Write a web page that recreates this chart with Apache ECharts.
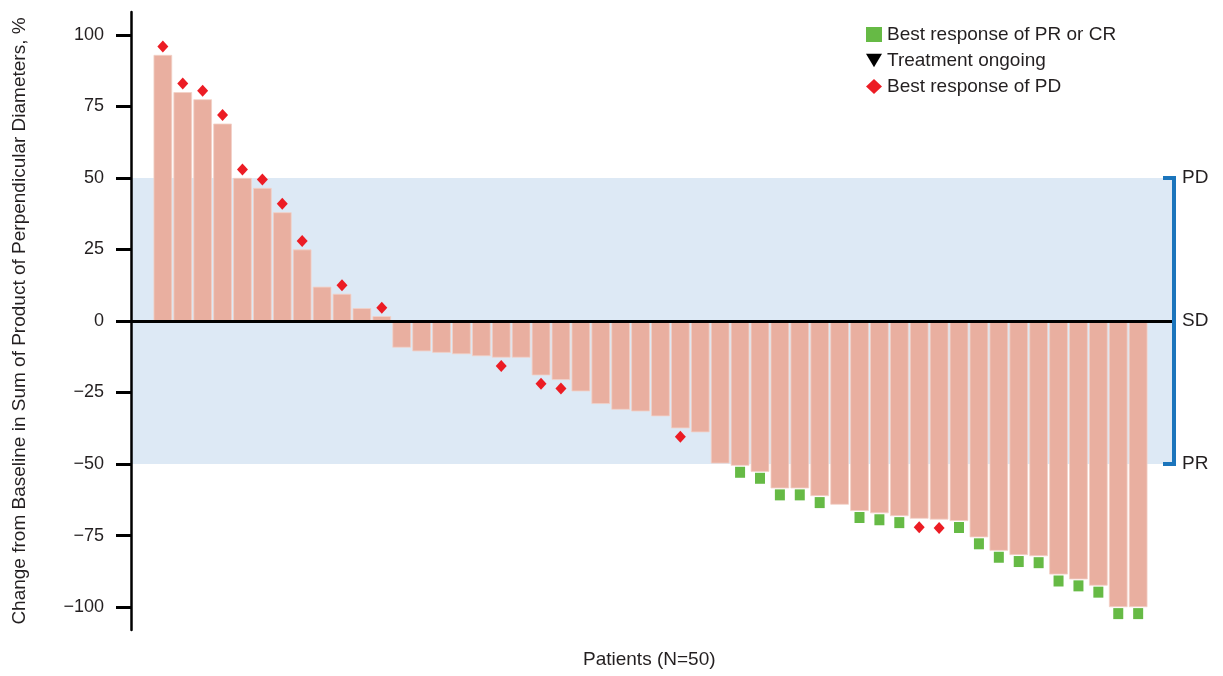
<!DOCTYPE html>
<html>
<head>
<meta charset="utf-8">
<script src="https://cdn.jsdelivr.net/npm/echarts@6/dist/echarts.min.js"></script>
<style>
  html, body { margin: 0; padding: 0; background: #fff; }
  #chart { width: 1223px; height: 676px; }
</style>
</head>
<body>
<div id="chart"></div>
<script>
// Best percentage change from baseline in SPD, one value per patient (sorted)
const changeFromBaseline = [
  93, 80, 77.5, 69, 50, 46.5, 38, 25, 12, 9.5, 4.5, 1.7,
  -9.3, -10.6, -11.1, -11.6, -12.3, -12.8, -12.8, -19, -20.6, -24.6, -29, -31, -31.6, -33.3, -37.5, -38.9,
  -49.8, -50.6, -52.7, -58.5, -58.5, -61.2, -64.2, -66.4, -67.2, -68.2, -69.1, -69.4, -69.9,
  -75.6, -80.3, -81.8, -82.2, -88.6, -90.3, -92.5, -100, -100
];
// Best response per patient: 'PD', 'PR' (PR or CR) or '' (none flagged)
const bestResponse = [
  'PD', 'PD', 'PD', 'PD', 'PD', 'PD', 'PD', 'PD', '', 'PD', '', 'PD',
  '', '', '', '', '', 'PD', '', 'PD', 'PD', '', '', '', '', '', 'PD', '',
  '', 'PR', 'PR', 'PR', 'PR', 'PR', '', 'PR', 'PR', 'PR', 'PD', 'PD', 'PR',
  'PR', 'PR', 'PR', 'PR', 'PR', 'PR', 'PR', 'PR', 'PR'
];
// Patients still on treatment (none flagged)
const treatmentOngoing = [];
const yTicks = [-100, -75, -50, -25, 0, 25, 50, 75, 100];
const responseBands = [50, 0, -50];
const responseBandLabels = ['PD', 'SD', 'PR'];

const FONT = '"Liberation Sans", Arial, sans-serif';
const TEXT = '#231f20';
const X_MIN = -0.6, X_MAX = 51.7;

const bars = changeFromBaseline.map((v, i) => [i + 1, v]);
function markers(code, gap) {
  const out = [];
  changeFromBaseline.forEach((v, i) => {
    if (bestResponse[i] === code) {
      out.push({ value: [i + 1, v], symbolOffset: [0, v >= 0 ? -gap : gap] });
    }
  });
  return out;
}

const chart = echarts.init(document.getElementById('chart'), null, { renderer: 'canvas' });
chart.setOption({
  animation: false,
  backgroundColor: '#fff',
  textStyle: { fontFamily: FONT, color: TEXT },
  grid: { left: 131, right: 51, top: 12, bottom: 46, containLabel: false },
  legend: {
    orient: 'vertical',
    left: 861,
    top: 20,
    itemWidth: 16,
    itemHeight: 15,
    itemGap: 7,
    selectedMode: false,
    textStyle: { fontFamily: FONT, fontSize: 19, color: TEXT },
    data: [
      { name: 'Best response of PR or CR', icon: 'rect' },
      { name: 'Treatment ongoing', icon: 'path://M0,0L14,0L7,12Z' },
      { name: 'Best response of PD', icon: 'diamond' }
    ]
  },
  xAxis: {
    type: 'value',
    min: X_MIN,
    max: X_MAX,
    z: 3,
    axisLine: { show: true, onZero: true, lineStyle: { color: '#000', width: 3 } },
    axisTick: { show: false },
    axisLabel: { show: false },
    splitLine: { show: false }
  },
  yAxis: {
    type: 'value',
    min: -108,
    max: 108,
    z: 3,
    name: 'Change from Baseline in Sum of Product of Perpendicular Diameters, %',
    nameLocation: 'middle',
    nameRotate: 90,
    nameGap: 102,
    nameMoveOverlap: false,
    nameTextStyle: { fontFamily: FONT, fontSize: 19, color: TEXT },
    axisLine: { show: true, onZero: false, lineStyle: { color: '#000', width: 2.5 } },
    axisTick: { show: true, inside: false, length: 15, customValues: yTicks, lineStyle: { color: '#000', width: 3 } },
    axisLabel: {
      customValues: yTicks,
      margin: 27,
      fontFamily: FONT,
      fontSize: 18,
      color: TEXT,
      formatter: v => (v < 0 ? '\u2212' + Math.abs(v) : String(v))
    },
    splitLine: { show: false }
  },
  series: [
    {
      // stable-disease band between the PD and PR thresholds
      type: 'line',
      name: 'band',
      data: [],
      z: 0,
      silent: true,
      markArea: {
        silent: true,
        itemStyle: { color: '#dde9f5' },
        data: [[{ yAxis: responseBands[0] }, { yAxis: responseBands[2] }]]
      }
    },
    {
      type: 'bar',
      name: 'Change',
      data: bars,
      barWidth: 18.6,
      z: 2,
      itemStyle: { color: '#e9afa0', borderColor: '#f3d0c6', borderWidth: 0.8 }
    },
    {
      type: 'scatter',
      name: 'Best response of PR or CR',
      symbol: 'rect',
      symbolSize: [10, 11],
      z: 4,
      itemStyle: { color: '#66ba45', opacity: 1 },
      data: markers('PR', 6.5)
    },
    {
      type: 'scatter',
      name: 'Treatment ongoing',
      symbol: 'path://M0,0L14,0L7,12Z',
      symbolSize: [12, 10],
      z: 4,
      itemStyle: { color: '#000', opacity: 1 },
      data: treatmentOngoing
    },
    {
      type: 'scatter',
      name: 'Best response of PD',
      symbol: 'diamond',
      symbolSize: [11, 12],
      z: 4,
      itemStyle: { color: '#ec1c24', opacity: 1 },
      data: markers('PD', 8.5)
    },
    {
      // response-category bracket on the right edge
      type: 'custom',
      name: 'bracket',
      silent: true,
      clip: false,
      z: 5,
      data: [[X_MAX, 0]],
      renderItem(params, api) {
        const cs = params.coordSys;
        const bx = cs.x + cs.width + 2;
        const ys = responseBands.map(v => api.coord([X_MAX, v])[1]);
        const children = [{
          type: 'polyline',
          shape: { points: [[bx - 11, ys[0]], [bx, ys[0]], [bx, ys[2]], [bx - 11, ys[2]]] },
          style: { stroke: '#1b75bc', lineWidth: 4, fill: null }
        }];
        ys.forEach((y, k) => {
          children.push({
            type: 'text',
            style: {
              x: bx + 8, y: y,
              text: responseBandLabels[k],
              fill: TEXT,
              font: '19px ' + FONT,
              verticalAlign: 'middle',
              align: 'left'
            }
          });
        });
        return { type: 'group', children };
      }
    }
  ],
  graphic: [{
    type: 'text',
    left: 583,
    top: 650,
    style: { text: 'Patients (N=50)', fill: TEXT, font: '19px ' + FONT }
  }]
});
</script>
</body>
</html>
